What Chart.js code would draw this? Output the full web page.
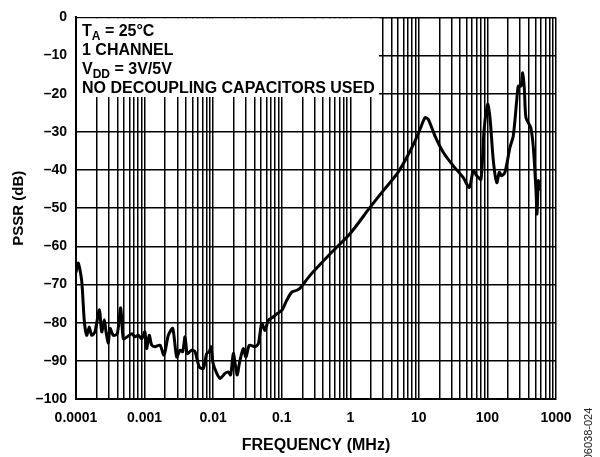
<!DOCTYPE html>
<html>
<head>
<meta charset="utf-8">
<script src="https://cdn.jsdelivr.net/npm/chart.js@4"></script>
<style>
  html, body { margin: 0; padding: 0; background: #fff; }
  #wrap { width: 600px; height: 457px; position: relative; }
</style>
</head>
<body>
<div id="wrap"><canvas id="pssr-chart"></canvas></div>
<script>
// frequency in MHz
const freqMHz = [
  0.0001, 0.000108, 0.000121, 0.000132, 0.000143, 0.000156, 0.000169, 0.000189, 0.000219, 0.000237,
  0.000259, 0.000274, 0.000296, 0.000313, 0.00035, 0.0004, 0.000449, 0.00049, 0.00056, 0.000649,
  0.000725, 0.00081, 0.000908, 0.00101, 0.00107, 0.00117, 0.00127, 0.00142, 0.00168, 0.00192,
  0.00222, 0.00257, 0.00294, 0.00329, 0.0036, 0.00389, 0.0042, 0.00487, 0.00544, 0.00628,
  0.00718, 0.00805, 0.00879, 0.00931, 0.01, 0.0113, 0.0126, 0.0149, 0.0166, 0.018,
  0.0197, 0.0213, 0.0225, 0.0241, 0.0275, 0.0301, 0.0337, 0.0407, 0.0456, 0.0511,
  0.057, 0.0637, 0.0753, 0.0862, 0.1, 0.118, 0.14, 0.166, 0.185, 0.259,
  0.506, 0.99, 1.94, 3.03, 4.76, 6.65, 8.79, 10.4, 12.3, 13.7,
  17.2, 22.8, 31.8, 44.5, 54.4, 62.2, 69.8, 80.6, 89.1, 101,
  109, 122, 137, 149, 161, 180, 213, 238, 267, 282,
  309, 327, 345, 365, 428, 467, 511, 528, 552, 571
]

// PSSR in dB
const pssrDb = [
  -66.8, -64.4, -69, -79.4, -83.3, -81.1, -83.3, -82.4, -76.6, -82.4,
  -79.2, -82.4, -85.3, -81.5, -83.3, -82.9, -76.1, -84.2, -83.7, -82.9,
  -83.7, -83.3, -84.2, -82.4, -86.8, -83.3, -85.9, -86.3, -85.9, -88.5,
  -83.3, -81.5, -89, -87.2, -87.6, -83.7, -88.1, -87.2, -87.6, -91.6,
  -92, -88.1, -87.6, -86.3, -90.7, -93.3, -94.6, -93.3, -92.9, -93.7,
  -88.1, -91.6, -93.7, -90.7, -86.8, -89, -85.9, -86.3, -85.5, -80.2,
  -82, -79.4, -78.5, -77.6, -76.8, -74.2, -72, -71.5, -71, -67.6,
  -62, -56.7, -49.8, -45.4, -41.1, -36.7, -32.4, -29.3, -26.3, -26.7,
  -31.1, -35.4, -38.9, -42, -44.6, -40.2, -41.5, -42.4, -29.8, -22.8,
  -26.3, -37.6, -43.3, -40.6, -41.5, -40.6, -34.1, -31.1, -21.9, -18,
  -18, -14.5, -18.5, -26.3, -28.9, -34.1, -45.4, -51.5, -42.8, -45.4
]

const xTickLabels = ['0.0001', '0.001', '0.01', '0.1', '1', '10', '100', '1000']
const yTickLabels = ['–100', '–90', '–80', '–70', '–60', '–50', '–40', '–30', '–20', '–10', '0']
const noteLines = ['T|A| = 25°C', '1 CHANNEL', 'V|DD| = 3V/5V', 'NO DECOUPLING CAPACITORS USED']
const figureCode = '06038-024'

const FONT = "'Liberation Sans', Arial, sans-serif"

// log grid: 1..9 in every decade
const xGridValues = []
for (let d = -4; d < 3; d++) {
  for (let m = 1; m < 10; m++) xGridValues.push(Number((m * Math.pow(10, d)).toPrecision(3)))
}
xGridValues.push(1000)

function isDecade(v) {
  const l = Math.log10(v)
  return Math.abs(l - Math.round(l)) < 1e-9
}

const notePlugin = {
  id: 'note',
  beforeDatasetsDraw(chart) {
    const { ctx, chartArea } = chart
    ctx.save()
    ctx.fillStyle = '#fff'
    ctx.fillRect(chartArea.left + 1, chartArea.top + 1, 378 - chartArea.left, 97 - chartArea.top - 1)
    ctx.fillStyle = '#000'
    ctx.textBaseline = 'alphabetic'
    noteLines.forEach((line, i) => {
      let x = chartArea.left + 6
      const y = chartArea.top + 19 + i * 19
      line.split('|').forEach((part, j) => {
        const sub = j % 2 === 1
        ctx.font = `bold ${sub ? 12 : 16}px ${FONT}`
        ctx.fillText(part, x, sub ? y + 4 : y)
        x += ctx.measureText(part).width
      })
    })
    ctx.restore()
  },
  afterDraw(chart) {
    const { ctx } = chart
    ctx.save()
    ctx.translate(589, 434)
    ctx.rotate(-Math.PI / 2)
    ctx.font = `11px ${FONT}`
    ctx.fillStyle = '#222'
    ctx.textAlign = 'center'
    ctx.textBaseline = 'middle'
    ctx.fillText(figureCode, 0, 0)
    ctx.restore()
  }
}

new Chart(document.getElementById('pssr-chart'), {
  type: 'line',
  data: {
    datasets: [{
      data: freqMHz.map((f, i) => ({ x: f, y: pssrDb[i] })),
      borderColor: '#000',
      borderWidth: 3,
      pointRadius: 0,
      tension: 0.25,
      borderJoinStyle: 'round',
      fill: false
    }]
  },
  options: {
    responsive: true,
    maintainAspectRatio: false,
    animation: false,
    layout: { padding: { top: 16, right: 44, left: 0, bottom: 0 } },
    plugins: { legend: { display: false }, tooltip: { enabled: false } },
    scales: {
      x: {
        type: 'logarithmic',
        min: 0.0001,
        max: 1000,
        afterBuildTicks: scale => { scale.ticks = xGridValues.map(v => ({ value: v })) },
        afterFit: scale => { scale.height = 58 },
        grid: { color: '#000', lineWidth: 1.5, drawTicks: false },
        border: { color: '#000', width: 2 },
        ticks: {
          autoSkip: false,
          maxRotation: 0,
          padding: 11,
          color: '#000',
          font: { family: FONT, size: 14, weight: 'bold' },
          callback: v => isDecade(v) ? xTickLabels[Math.round(Math.log10(v)) + 4] : ''
        },
        title: {
          display: true,
          text: 'FREQUENCY (MHz)',
          color: '#000',
          font: { family: FONT, size: 16, weight: 'bold' },
          padding: { top: 0, bottom: 2 }
        }
      },
      y: {
        min: -100,
        max: 0,
        afterFit: scale => { scale.width = 76 },
        grid: { color: '#000', lineWidth: 1.5, drawTicks: false },
        border: { color: '#000', width: 2 },
        ticks: {
          stepSize: 10,
          padding: 9,
          color: '#000',
          font: { family: FONT, size: 14, weight: 'bold' },
          callback: (v, i) => yTickLabels[i]
        },
        title: {
          display: true,
          text: 'PSSR (dB)',
          color: '#000',
          font: { family: FONT, size: 15, weight: 'bold' },
          padding: { top: 10, bottom: 0 }
        }
      }
    }
  },
  plugins: [notePlugin]
})
</script>
</body>
</html>
